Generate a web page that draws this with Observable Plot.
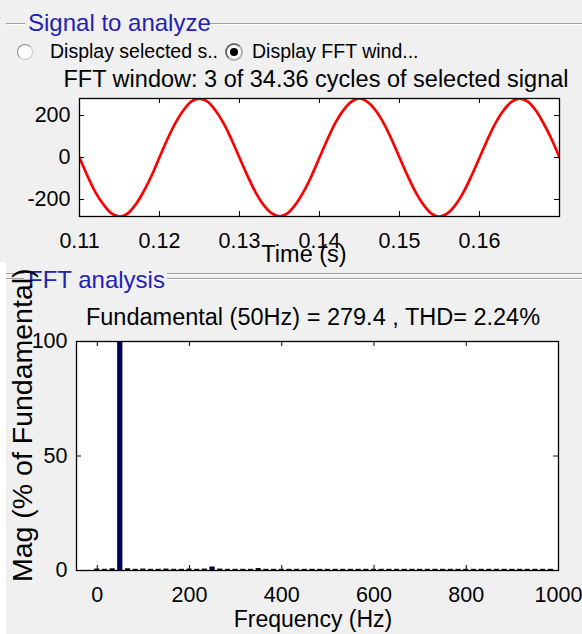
<!DOCTYPE html>
<html><head><meta charset="utf-8">
<script src="https://cdn.jsdelivr.net/npm/d3@7"></script>
<script src="https://cdn.jsdelivr.net/npm/@observablehq/plot@0.6"></script>
<style>
html,body{margin:0;padding:0;width:582px;height:634px;overflow:hidden;background:#f0f0f0;font-family:'Liberation Sans',Arial,sans-serif;}
#page{position:relative;width:582px;height:634px;overflow:hidden;}
.t{position:absolute;white-space:nowrap;line-height:1;}
.ln{position:absolute;height:1px;background:#a0a0a0;box-shadow:0 1px 0 #ffffff;}
.radio{position:absolute;border-radius:50%;box-sizing:border-box;background:#fdfdfd;}
.plotbox{position:absolute;left:0;}
</style></head><body><div id="page"></div>
<script>
// ---------- data ----------
const signalTime = [0.110,0.111,0.112,0.113,0.114,0.115,0.116,0.117,0.118,0.119,
  0.120,0.121,0.122,0.123,0.124,0.125,0.126,0.127,0.128,0.129,
  0.130,0.131,0.132,0.133,0.134,0.135,0.136,0.137,0.138,0.139,
  0.140,0.141,0.142,0.143,0.144,0.145,0.146,0.147,0.148,0.149,
  0.150,0.151,0.152,0.153,0.154,0.155,0.156,0.157,0.158,0.159,
  0.160,0.161,0.162,0.163,0.164,0.165,0.166,0.167,0.168,0.169,0.170];
const signalValue = [0,-88,-166,-224,-266,-281,-267,-225,-163,-87,
  1,88,165,225,267,280,266,224,164,86,
  -1,-87,-165,-226,-265,-280,-266,-224,-164,-88,
  0,87,166,226,266,281,265,225,165,87,
  0,-86,-164,-225,-267,-281,-266,-226,-165,-87,
  -1,86,164,224,265,280,267,226,163,88,0];
const timeTicks = [0.11,0.12,0.13,0.14,0.15,0.16];
const signalTicks = [-200,0,200];

const harmonicFreq = [0,16.7,33.3,50,66.7,83.3,100,116.7,133.3,150,
  166.7,183.3,200,216.7,233.3,250,266.7,283.3,300,316.7,
  333.3,350,366.7,383.3,400,416.7,433.3,450,466.7,483.3,
  500,516.7,533.3,550,566.7,583.3,600,616.7,633.3,650,
  666.7,683.3,700,716.7,733.3,750,766.7,783.3,800,816.7,
  833.3,850,866.7,883.3,900,916.7,933.3,950,966.7,983.3];
const harmonicMag = [0.4,0.3,0.5,100,0.5,0.3,0.4,0.3,0.3,0.4,
  0.3,0.3,0.4,0.3,0.4,1.3,0.4,0.3,0.3,0.3,
  0.3,0.6,0.3,0.3,0.3,0.3,0.3,0.3,0.3,0.3,
  0.3,0.3,0.3,0.3,0.3,0.3,0.3,0.3,0.3,0.3,
  0.3,0.3,0.3,0.3,0.3,0.3,0.3,0.3,0.3,0.3,
  0.3,0.3,0.3,0.3,0.3,0.3,0.3,0.3,0.3,0.3];
const freqTicks = [0,200,400,600,800,1000];
const magTicks = [0,50,100];

const panelTitle1 = "Signal to analyze";
const panelTitle2 = "FFT analysis";
const radioLabel1 = "Display selected s..";
const radioLabel2 = "Display FFT wind...";
const signalTitle = "FFT window: 3 of 34.36 cycles of selected signal";
const signalXLabel = "Time (s)";
const fftTitle = "Fundamental (50Hz) = 279.4 , THD= 2.24%";
const fftXLabel = "Frequency (Hz)";
const fftYLabel = "Mag (% of Fundamental)";

// ---------- layout helpers ----------
const page = document.getElementById("page");
const FONT = "'Liberation Sans', Arial, sans-serif";
function addText(str, {x, baseline, size, anchor = "start", color = "#000"}) {
  const d = document.createElement("div");
  d.className = "t";
  d.textContent = str;
  d.style.fontSize = size + "px";
  d.style.color = color;
  d.style.top = (baseline - 0.8465 * size) + "px";
  if (anchor === "middle") { d.style.left = (x - 300) + "px"; d.style.width = "600px"; d.style.textAlign = "center"; }
  else d.style.left = x + "px";
  page.appendChild(d);
  return d;
}
function addLine(x1, x2, y) {
  const d = document.createElement("div");
  d.className = "ln";
  d.style.left = x1 + "px"; d.style.width = (x2 - x1) + "px"; d.style.top = y + "px";
  page.appendChild(d);
}

// white strip at left edge of the lower part
const strip = document.createElement("div");
strip.style.cssText = "position:absolute;left:0;top:262px;width:6px;height:372px;background:#fff;";
page.appendChild(strip);

// ---------- top plot ----------
const W = 582;
const tH = 180, tMT = 8, tMB = 54, tML = 79, tMR = 23;
const tInH = tH - tMT - tMB, tInW = W - tML - tMR;
const sig = signalTime.map((t, i) => ({t, v: signalValue[i]}));
const plotStyle = {background: "transparent", fontFamily: FONT, fontSize: "21.5px", color: "#000", overflow: "visible"};
const topPlot = Plot.plot({
  width: W, height: tH, marginTop: tMT, marginBottom: tMB, marginLeft: tML, marginRight: tMR,
  style: plotStyle,
  x: {domain: [0.11, 0.17]},
  y: {domain: [-281, 281]},
  marks: [
    Plot.frame({fill: "white"}),
    Plot.line(sig, {x: "t", y: "v", stroke: "#ff0000", strokeWidth: 2.7, curve: "catmull-rom", clip: true}),
    Plot.ruleX(timeTicks, {x: d => d, insetTop: tInH - 5, stroke: "#000"}),
    Plot.ruleX(timeTicks, {x: d => d, insetBottom: tInH - 5, stroke: "#000"}),
    Plot.ruleY(signalTicks, {y: d => d, insetRight: tInW - 5, stroke: "#000"}),
    Plot.ruleY(signalTicks, {y: d => d, insetLeft: tInW - 5, stroke: "#000"}),
    Plot.axisX(timeTicks, {anchor: "bottom", tickSize: 0, tickPadding: 16, tickFormat: d => String(d), label: null}),
    Plot.axisY(signalTicks, {anchor: "left", tickSize: 0, tickPadding: 9, tickFormat: d => String(d), label: null}),
    Plot.frame({stroke: "#000", strokeWidth: 1.3})
  ]
});
const topBox = document.createElement("div");
topBox.className = "plotbox"; topBox.style.top = "90px";
topBox.appendChild(topPlot);
page.appendChild(topBox);

// ---------- bottom plot ----------
const bH = 304, bMT = 11, bMB = 64, bML = 76, bMR = 24;
const bInH = bH - bMT - bMB, bInW = W - bML - bMR;
const harm = harmonicFreq.map((f, i) => ({f, m: harmonicMag[i]}));
const barHalf = 4.5;
const botPlot = Plot.plot({
  width: W, height: bH, marginTop: bMT, marginBottom: bMB, marginLeft: bML, marginRight: bMR,
  style: plotStyle,
  x: {domain: [-45, 1000]},
  y: {domain: [0, 100]},
  marks: [
    Plot.frame({fill: "white"}),
    Plot.rect(harm, {x1: d => d.f - barHalf, x2: d => d.f + barHalf, y1: 0, y2: "m", fill: "#00006e", stroke: "#000", strokeWidth: 1, clip: true}),
    Plot.ruleX(freqTicks, {x: d => d, insetTop: bInH - 5, stroke: "#000"}),
    Plot.ruleX(freqTicks, {x: d => d, insetBottom: bInH - 5, stroke: "#000"}),
    Plot.ruleY(magTicks, {y: d => d, insetRight: bInW - 5, stroke: "#000"}),
    Plot.ruleY(magTicks, {y: d => d, insetLeft: bInW - 5, stroke: "#000"}),
    Plot.axisX(freqTicks, {anchor: "bottom", tickSize: 0, tickPadding: 16, tickFormat: d => String(d), label: null}),
    Plot.axisY(magTicks, {anchor: "left", tickSize: 0, tickPadding: 9, tickFormat: d => String(d), label: null}),
    Plot.frame({stroke: "#000", strokeWidth: 1.3})
  ]
});
const botBox = document.createElement("div");
botBox.className = "plotbox"; botBox.style.top = "330px";
botBox.appendChild(botPlot);
page.appendChild(botBox);

// ---------- panel decorations and texts ----------
addLine(6, 25, 23);
addLine(210, 582, 23);
addText(panelTitle1, {x: 28, baseline: 31, size: 24, color: "#2222b4"});

const r1 = document.createElement("div");
r1.className = "radio";
r1.style.cssText += "left:17px;top:44px;width:16px;height:16px;border:1.5px solid #8c8c8c;border-right-color:#c8c8c8;border-bottom-color:#c8c8c8;";
page.appendChild(r1);
const r2 = document.createElement("div");
r2.className = "radio";
r2.style.cssText += "left:225px;top:43px;width:18px;height:18px;border:2px solid #6a6a6a;border-right-color:#b0b0b0;border-bottom-color:#b0b0b0;";
const dot = document.createElement("div");
dot.style.cssText = "position:absolute;left:3px;top:3px;width:8px;height:8px;border-radius:50%;background:#000;";
r2.appendChild(dot);
page.appendChild(r2);
addText(radioLabel1, {x: 50, baseline: 59, size: 19.5});
addText(radioLabel2, {x: 252, baseline: 59, size: 19.5});

addText(signalTitle, {x: 316, baseline: 88, size: 23.5, anchor: "middle"});
addText(signalXLabel, {x: 304, baseline: 263, size: 23.5, anchor: "middle"});

addLine(6, 24, 273);
addLine(6, 24, 278);
addLine(167, 582, 273);
addLine(167, 582, 278);
addText(panelTitle2, {x: 28, baseline: 288, size: 24, color: "#2222b4"});

addText(fftTitle, {x: 313, baseline: 326, size: 23.5, anchor: "middle"});
addText(fftXLabel, {x: 313, baseline: 627, size: 23, anchor: "middle"});

const yl = document.createElement("div");
yl.className = "t";
yl.textContent = fftYLabel;
yl.style.cssText += "font-size:28.5px;width:400px;text-align:center;left:" + (22 - 200) + "px;top:" + (425 - 14.25) + "px;transform:rotate(-90deg);transform-origin:50% 50%;";
page.appendChild(yl);
</script>
</body></html>
